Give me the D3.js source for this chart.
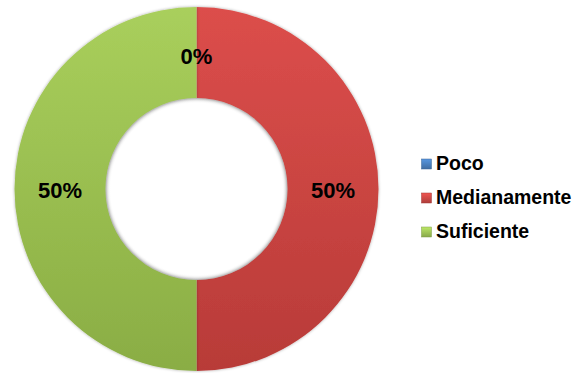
<!DOCTYPE html>
<html><head><meta charset="utf-8">
<script src="https://cdn.jsdelivr.net/npm/d3@7"></script>
<style>html,body{margin:0;padding:0;background:#fff;}svg{display:block;}</style>
</head><body>
<svg id="chart" width="579" height="373"></svg>
<script>
const categories = ["Poco", "Medianamente", "Suficiente"];
const values = [0, 50, 50];
const labels = ["0%", "50%", "50%"];
const colorsTop = ["#5b8fd0", "#dc4e4b", "#a9cf5c"];
const colorsBottom = ["#3d6fae", "#b83b38", "#8aad44"];
const legendColors = ["#4a7ebb", "#c94744", "#9dc255"];

const svg = d3.select("#chart");
const cx = 196.5, cy = 189, R = 182, r = 91;

const defs = svg.append("defs");
categories.forEach((c, i) => {
  const g = defs.append("linearGradient").attr("id", "g" + i)
    .attr("x1", 0).attr("y1", 0).attr("x2", 0).attr("y2", 1);
  g.append("stop").attr("offset", "0%").attr("stop-color", colorsTop[i]);
  g.append("stop").attr("offset", "100%").attr("stop-color", colorsBottom[i]);
  const lg = defs.append("linearGradient").attr("id", "lg" + i)
    .attr("x1", 0).attr("y1", 0).attr("x2", 0).attr("y2", 1);
  lg.append("stop").attr("offset", "0%").attr("stop-color", d3.color(legendColors[i]).brighter(0.5));
  lg.append("stop").attr("offset", "100%").attr("stop-color", d3.color(legendColors[i]).darker(0.4));
});
const f = defs.append("filter").attr("id", "sh").attr("x", "-10%").attr("y", "-10%").attr("width", "120%").attr("height", "120%");
f.append("feDropShadow").attr("dx", 0).attr("dy", 0).attr("stdDeviation", 1.5).attr("flood-color", "#000").attr("flood-opacity", 0.35);

const pie = d3.pie().sort(null).value(d => d);
const arcs = pie(values);
const arc = d3.arc().innerRadius(r).outerRadius(R);
const labelArc = d3.arc().innerRadius((R + r) / 2).outerRadius((R + r) / 2);

const g = svg.append("g").attr("transform", `translate(${cx},${cy})`);
g.selectAll("path.slice").data(arcs).enter().append("path")
  .attr("class", "slice")
  .attr("d", arc)
  .attr("fill", (d, i) => `url(#g${i})`)
  .attr("filter", "url(#sh)");

// inner shadow of the hole
const hole = defs.append("radialGradient").attr("id", "hole");
hole.append("stop").attr("offset", "94%").attr("stop-color", "#fff").attr("stop-opacity", 0);
hole.append("stop").attr("offset", "100%").attr("stop-color", "#777").attr("stop-opacity", 0.45);
g.append("circle").attr("r", r).attr("fill", "url(#hole)");

g.selectAll("text.lbl").data(arcs).enter().append("text")
  .attr("class", "lbl")
  .attr("transform", d => `translate(${labelArc.centroid(d)})`)
  .attr("dy", (d, i) => d.endAngle - d.startAngle === 0 ? "0.5em" : "0.4em")
  .attr("text-anchor", "middle")
  .style("font-family", "'Liberation Sans', Arial, sans-serif")
  .style("font-weight", "bold")
  .style("font-size", "22px")
  .attr("fill", "#000")
  .text((d, i) => labels[i]);

const leg = svg.append("g");
const baselines = [170, 204, 238];
categories.forEach((c, i) => {
  leg.append("rect").attr("x", 421.5).attr("y", baselines[i] - 11).attr("width", 10).attr("height", 10)
    .attr("fill", `url(#lg${i})`).attr("stroke", d3.color(legendColors[i]).darker(0.6)).attr("stroke-width", 0.5);
  leg.append("text").attr("x", 436).attr("y", baselines[i])
    .style("font-family", "'Liberation Sans', Arial, sans-serif")
    .style("font-weight", "bold")
    .style("font-size", "19.5px")
    .attr("fill", "#000")
    .text(c);
});
</script>
</body></html>
